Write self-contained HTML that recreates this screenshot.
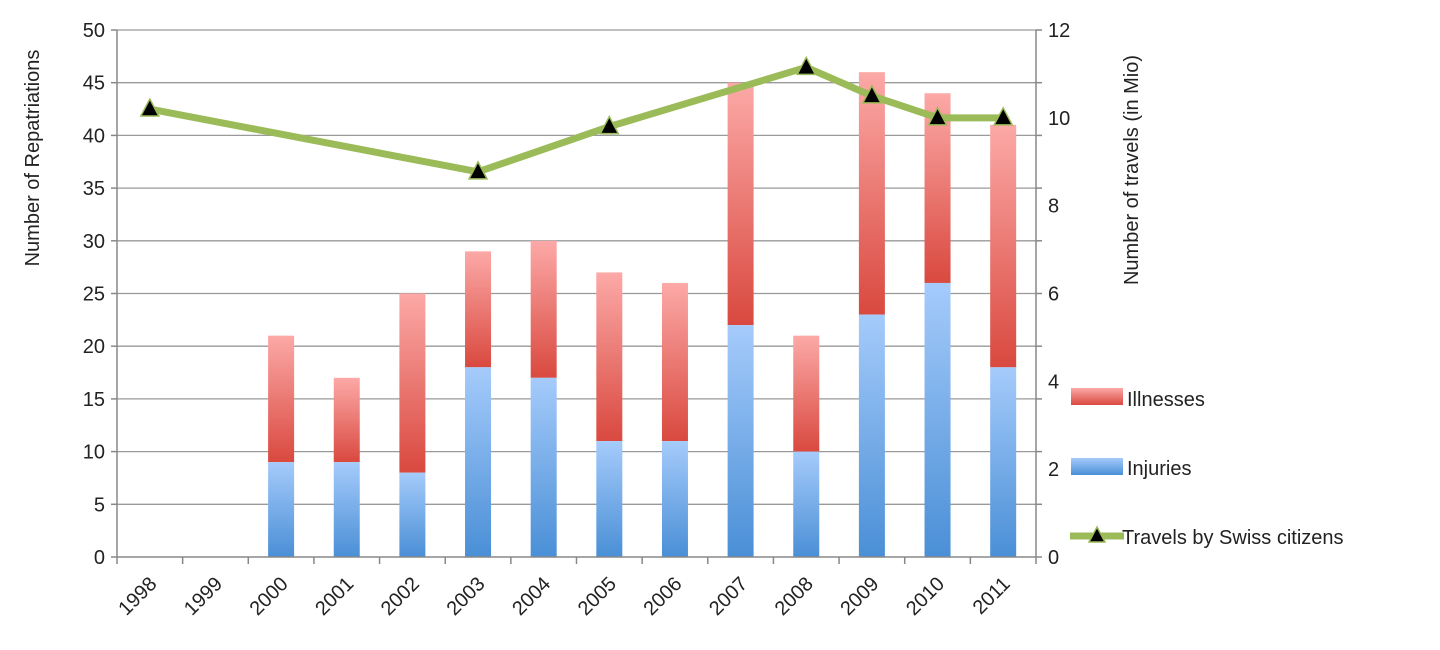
<!DOCTYPE html>
<html><head><style>body{margin:0;background:#fff}svg{display:block}text{font-family:"Liberation Sans",sans-serif;fill:#222}</style></head><body>
<svg width="1440" height="650" viewBox="0 0 1440 650">
<defs>
<linearGradient id="r" x1="0" y1="0" x2="0" y2="1"><stop offset="0" stop-color="#fca9a7"/><stop offset="1" stop-color="#d9493f"/></linearGradient>
<linearGradient id="b" x1="0" y1="0" x2="0" y2="1"><stop offset="0" stop-color="#a5cbfb"/><stop offset="1" stop-color="#4a8fd6"/></linearGradient>
</defs>
<g id="grid" stroke="#9a9a9a" stroke-width="1.3"></g>
<g id="bars"></g>
<g id="axes" stroke="#888" stroke-width="1.5"></g>
<g id="lab" font-size="20"></g>
<polyline id="ln" fill="none" stroke="#9bbb59" stroke-width="7" stroke-linejoin="round"/>
<g id="mk"></g>
<text x="39" y="158" font-size="20" text-anchor="middle" transform="rotate(-90 39 158)">Number of Repatriations</text>
<text x="1138" y="170" font-size="20" text-anchor="middle" transform="rotate(-90 1138 170)">Number of travels (in Mio)</text>
<rect x="1071" y="388" width="52" height="17" fill="url(#r)"/>
<text x="1127" y="406" font-size="20">Illnesses</text>
<rect x="1071" y="458" width="52" height="17" fill="url(#b)"/>
<text x="1127" y="475" font-size="20">Injuries</text>
<line x1="1070" y1="536" x2="1124" y2="536" stroke="#9bbb59" stroke-width="7"/>
<polygon points="1097,527 1089,542 1105,542" fill="#000" stroke="#9bbb59" stroke-width="1.5"/>
<text x="1122" y="544" font-size="20">Travels by Swiss citizens</text>
</svg>
<script>
var ns="http://www.w3.org/2000/svg";function el(p,t,a,tx){var e=document.createElementNS(ns,t);for(var k in a)e.setAttribute(k,a[k]);if(tx!=null)e.textContent=tx;document.getElementById(p).appendChild(e);return e}
var L=117,R=1036,Y0=557,Y1=30,cw=(R-L)/14;function y(v){return Y0-(Y0-Y1)*v/50}function yr(v){return Y0-(Y0-Y1)*v/12}
for(var i=0;i<=10;i++){var v=i*5;if(i>0)el("grid","line",{x1:L,x2:R,y1:y(v),y2:y(v)});el("lab","text",{x:L-12,y:y(v)+7,"text-anchor":"end"},v)}
for(i=0;i<=6;i++){el("lab","text",{x:R+12,y:yr(i*2)+7},i*2)}
el("axes","line",{x1:L,x2:L,y1:Y1,y2:Y0});el("axes","line",{x1:R,x2:R,y1:Y1,y2:Y0});el("axes","line",{x1:L,x2:R,y1:Y0,y2:Y0});
for(i=0;i<=14;i++){var x=L+cw*i;el("axes","line",{x1:x,x2:x,y1:Y0,y2:Y0+7})}
for(i=0;i<=10;i++){el("axes","line",{x1:L-6,x2:L,y1:y(i*5),y2:y(i*5)});el("axes","line",{x1:R,x2:R+6,y1:y(i*5),y2:y(i*5)})}
var inj=[0,0,9,9,8,18,17,11,11,22,10,23,26,18],tot=[0,0,21,17,25,29,30,27,26,45,21,46,44,41];
for(i=0;i<14;i++){var c=L+cw*(i+0.5);if(tot[i]){el("bars","rect",{x:c-13,y:y(tot[i]),width:26,height:y(inj[i])-y(tot[i]),fill:"url(#r)"});el("bars","rect",{x:c-13,y:y(inj[i]),width:26,height:Y0-y(inj[i]),fill:"url(#b)"})}
var tx=c+8,ty=Y0+28;el("lab","text",{x:tx,y:ty,"text-anchor":"end",transform:"rotate(-45 "+tx+" "+ty+")"},1998+i)}
var tr=[[0,10.2],[5,8.77],[7,9.8],[10,11.15],[11,10.5],[12,10],[13,10]],pts=[];
tr.forEach(function(p){var x=L+cw*(p[0]+0.5),yy=yr(p[1]);pts.push(x+","+yy);el("mk","polygon",{points:x+","+(yy-10)+" "+(x-9)+","+(yy+7)+" "+(x+9)+","+(yy+7),fill:"#000",stroke:"#9bbb59","stroke-width":1.5})});
document.getElementById("ln").setAttribute("points",pts.join(" "));
</script>
</body></html>
